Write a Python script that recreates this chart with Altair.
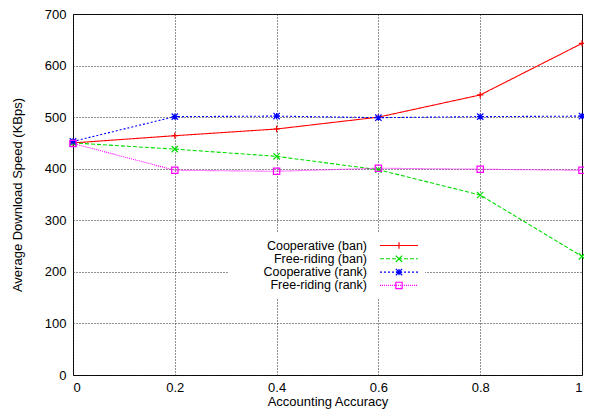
import altair as alt
import pandas as pd

# ---- data ----
accuracy = [0, 0.2, 0.4, 0.6, 0.8, 1.0]
coop_ban = [450, 464, 477, 500, 543, 643]
free_ban = [450, 438, 424, 398, 349, 230]
coop_rank = [453, 501, 502, 499, 501, 502]
free_rank = [449, 397, 395, 401, 399, 397]

series_names = ["Cooperative (ban)", "Free-riding (ban)",
                "Cooperative (rank)", "Free-riding (rank)"]
series_values = [coop_ban, free_ban, coop_rank, free_rank]
series_colors = ["#ff0000", "#00dd00", "#0000ff", "#ff00ff"]
series_dashes = [[1, 0], [4, 2], [2, 2], [1, 1]]
series_shapes = [
    "M-1,0H1M0,-1V1",
    "M-1,-1L1,1M-1,1L1,-1",
    "M-1,0H1M0,-1V1M-1,-1L1,1M-1,1L1,-1",
    "square",
]
y_ticks = [0, 100, 200, 300, 400, 500, 600, 700]

rows = []
for name, vals in zip(series_names, series_values):
    for xv, yv in zip(accuracy, vals):
        rows.append({"series": name, "x": xv, "y": yv})
df = pd.DataFrame(rows)

FONT = "Liberation Sans"

color_scale = alt.Scale(domain=series_names, range=series_colors)
dash_scale = alt.Scale(domain=series_names, range=series_dashes)
shape_scale = alt.Scale(domain=series_names, range=series_shapes)

x_enc = alt.X("x:Q", scale=alt.Scale(domain=[0, 1], nice=False),
              axis=alt.Axis(values=accuracy, format="~g", title="Accounting Accuracy",
                            grid=True, gridDash=[1, 2], gridColor="#222", gridOpacity=1,
                            ticks=False, domain=False, labelPadding=6, titlePadding=1))
y_enc = alt.Y("y:Q", scale=alt.Scale(domain=[0, 700], nice=False),
              axis=alt.Axis(values=y_ticks, title="Average Download Speed (KBps)",
                            grid=True, gridDash=[1, 2], gridColor="#222", gridOpacity=1,
                            ticks=False, domain=False, labelPadding=7, titlePadding=20))

base = alt.Chart(df)

lines = base.mark_line(strokeWidth=1.1).encode(
    x=x_enc, y=y_enc,
    color=alt.Color("series:N", scale=color_scale, legend=None),
    strokeDash=alt.StrokeDash("series:N", scale=dash_scale, legend=None),
    detail="series:N",
)
points = base.mark_point(filled=False, strokeWidth=1.2, size=40, opacity=1).encode(
    x="x:Q", y="y:Q",
    color=alt.Color("series:N", scale=color_scale, legend=None),
    shape=alt.Shape("series:N", scale=shape_scale, legend=None),
)

# legend background box (white, like gnuplot's key)
one = pd.DataFrame({"k": [0]})
box = alt.Chart(one).mark_rect(color="white").encode(
    x=alt.value(155), x2=alt.value(352), y=alt.value(219), y2=alt.value(284)
)

legend_layers = []
row_y = [231.5, 244.8, 258.1, 271.4]
for name, col, dash, shp, ly in zip(series_names, series_colors, series_dashes,
                                    series_shapes, row_y):
    d = pd.DataFrame({"label": [name]})
    legend_layers.append(
        alt.Chart(d).mark_text(align="right", baseline="middle", font=FONT,
                               fontSize=12.5, color="black").encode(
            x=alt.value(294), y=alt.value(ly), text="label:N")
    )
    legend_layers.append(
        alt.Chart(d).mark_rule(strokeWidth=1.1, strokeDash=dash, color=col).encode(
            x=alt.value(307), x2=alt.value(345), y=alt.value(ly))
    )
    legend_layers.append(
        alt.Chart(d).mark_point(filled=False, strokeWidth=1.2, size=40, shape=shp,
                                color=col, opacity=1).encode(
            x=alt.value(326), y=alt.value(ly))
    )

chart = alt.layer(lines, box, points, *legend_layers).properties(
    width=509, height=361,
    autosize=alt.AutoSizeParams(type="none"),
    padding={"left": 65, "top": 6, "right": 2, "bottom": 36},
).configure_view(
    stroke="black", strokeWidth=1
).configure_axis(
    labelFont=FONT, titleFont=FONT, labelFontSize=13, titleFontSize=13,
    titleFontWeight="normal", labelColor="black", titleColor="black"
)

chart.save("out.html", embed_options={"renderer": "svg", "actions": False})
